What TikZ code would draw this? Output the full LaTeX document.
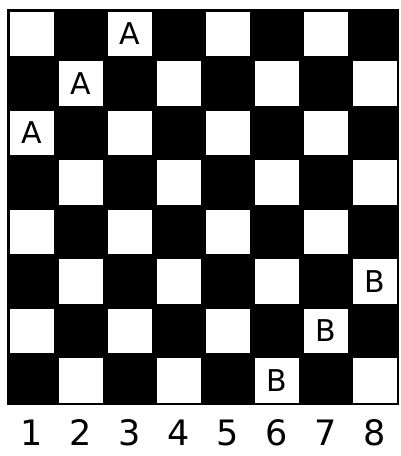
\documentclass[tikz,border=0pt]{standalone}
\usepackage{fontspec}
\setmainfont{DejaVu Sans}
\begin{document}
\begin{tikzpicture}[x=1pt,y=-1pt,
  piece/.style={font=\fontsize{30}{30}\selectfont,inner sep=0pt},
  num/.style={font=\fontsize{35}{35}\selectfont,inner sep=0pt}]
\useasboundingbox (0,0) rectangle (400,456);
\fill[white] (0,0) rectangle (400,456);
\def\bx{7}\def\by{9}\def\sw{49}\def\sh{49.5}
\fill[black] (\bx,\by) rectangle ({\bx+8*\sw},{\by+8*\sh});
\foreach \r in {1,...,8}{
  \foreach \c in {1,...,8}{
    \pgfmathparse{int(mod(\r+\c,2))}
    \ifnum\pgfmathresult=0
      \fill[white] ({\bx+(\c-1)*\sw+2.5},{\by+(\r-1)*\sh+2.5}) rectangle ({\bx+\c*\sw-2.5},{\by+\r*\sh-2.5});
    \fi
  }
}
\node[piece] (a1) at ({\bx+2.5*\sw},{\by+0.5*\sh}) {A};
\node[piece] (a2) at ({\bx+1.5*\sw},{\by+1.5*\sh}) {A};
\node[piece] (a3) at ({\bx+0.5*\sw},{\by+2.5*\sh}) {A};
\node[piece] (b1) at ({\bx+7.5*\sw},{\by+5.5*\sh}) {B};
\node[piece] (b2) at ({\bx+6.5*\sw},{\by+6.5*\sh}) {B};
\node[piece] (b3) at ({\bx+5.5*\sw},{\by+7.5*\sh}) {B};
\foreach \c in {1,...,8}{
  \node[num] (n\c) at ({\bx+(\c-0.5)*\sw},433) {\c};
}
\end{tikzpicture}
\end{document}
